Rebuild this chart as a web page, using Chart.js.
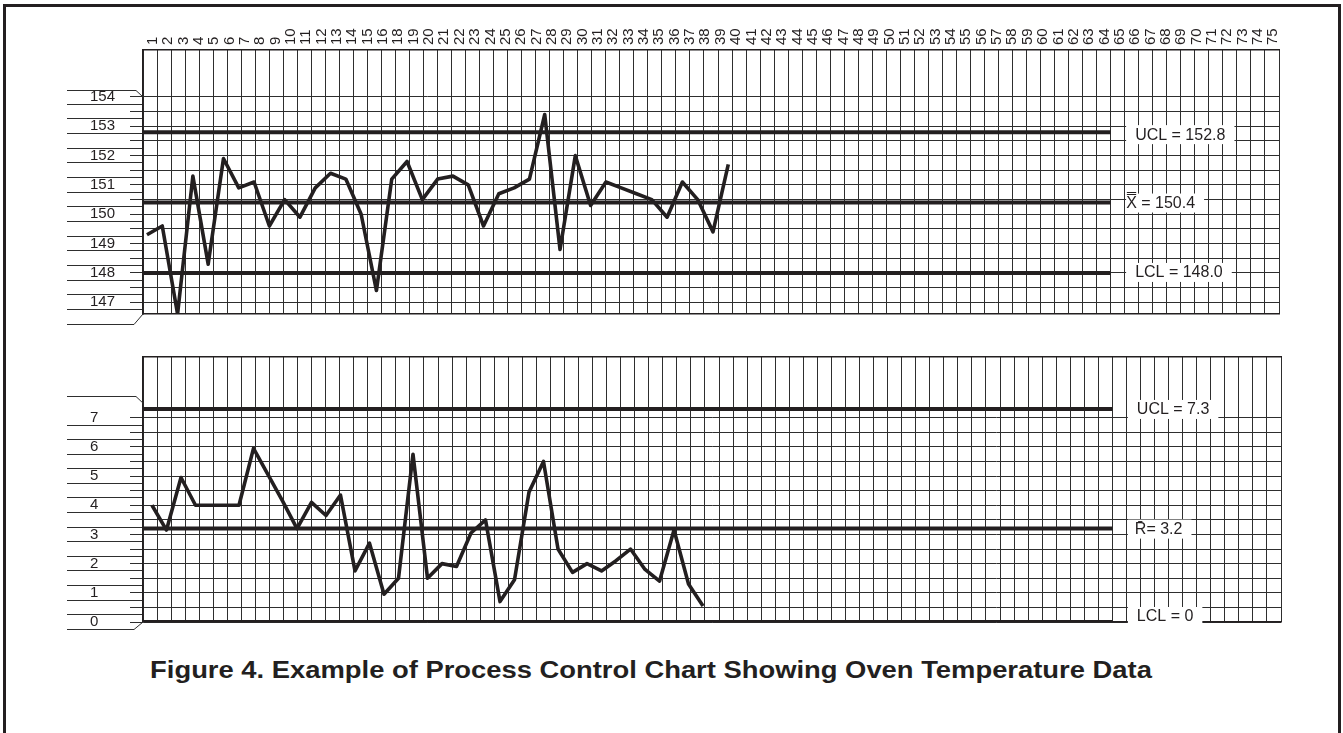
<!DOCTYPE html>
<html>
<head>
<meta charset="utf-8">
<script src="https://cdn.jsdelivr.net/npm/chart.js@4.4.1/dist/chart.umd.min.js"></script>
<style>
  html, body { margin: 0; padding: 0; background: #fff; width: 1343px; height: 733px; overflow: hidden; }
  #frame { position: absolute; left: 3px; top: 4px; width: 1338px; height: 780px; border: 3px solid #231f20; box-sizing: border-box; }
  #w1 { position: absolute; left: 0; top: 0; width: 1343px; height: 335px; }
  #w2 { position: absolute; left: 0; top: 335px; width: 1343px; height: 300px; }
  #caption { position: absolute; left: 0; top: 657px; width: 1302px; text-align: center;
             font: bold 23px "Liberation Sans", Arial, sans-serif; color: #231f20; white-space: nowrap;
             transform: scaleX(1.19); transform-origin: 651px 50%; }
</style>
</head>
<body>
<div id="frame"></div>
<div id="w1"><canvas id="c1" width="1343" height="335"></canvas></div>
<div id="w2"><canvas id="c2" width="1343" height="300"></canvas></div>
<div id="caption">Figure 4. Example of Process Control Chart Showing Oven Temperature Data</div>
<script>
// ---------------- data ----------------
const sampleLabels = ['1','2','3','4','5','6','7','8','9','10','11','12','13','14','15','16',
  '18','19','20','21','22','23','24','25','26','27','28','29','30','31','32','33','34','35',
  '36','37','38','39','40','41','42','43','44','45','46','47','48','49','50','51','52','53',
  '54','55','56','57','58','59','60','61','62','63','64','65','66','67','68','69','70','71',
  '72','73','74','75'];

const xbarValues = [149.3, 149.6, 146.6, 151.3, 148.3, 151.9, 150.9, 151.1, 149.6, 150.5,
  149.9, 150.9, 151.4, 151.2, 150.0, 147.4, 151.2, 151.8, 150.5, 151.2,
  151.3, 151.0, 149.6, 150.7, 150.9, 151.2, 153.4, 148.8, 152.0, 150.3,
  151.1, 150.9, 150.7, 150.5, 149.9, 151.1, 150.5, 149.4, 151.7];

const rangeValues = [4.0, 3.15, 4.95, 4.0, 4.0, 4.0, 4.0, 5.95, 5.05, 4.15,
  3.2, 4.1, 3.65, 4.35, 1.75, 2.7, 0.95, 1.5, 5.75, 1.5,
  2.0, 1.9, 3.05, 3.5, 0.7, 1.45, 4.45, 5.5, 2.5, 1.7,
  2.0, 1.75, 2.1, 2.5, 1.8, 1.4, 3.15, 1.3, 0.55];

const xbarLimitValues = [152.8, 150.4, 148.0];
const xbarLimitLabels = ['UCL = 152.8', 'X\u033F = 150.4', 'LCL = 148.0'];
const rangeLimitValues = [7.3, 3.2, 0];
const rangeLimitLabels = ['UCL = 7.3', 'R\u0304= 3.2', 'LCL = 0'];

const xbarTickLabels = [147, 148, 149, 150, 151, 152, 153, 154];
const rangeTickLabels = [0, 1, 2, 3, 4, 5, 6, 7];

// ---------------- style ----------------
const INK = '#231f20';
const GRID = '#2e2e2e';
const CLEAR = 'rgba(0,0,0,0)';
const FONT = '"Liberation Sans", Arial, sans-serif';
Chart.defaults.font.family = FONT;
Chart.defaults.color = INK;

const isHalfStep = v => Math.abs(v * 2 - Math.round(v * 2)) < 1e-6;
const isWhole = v => Math.abs(v - Math.round(v)) < 1e-6;

// label boxes on the right of the limit lines
const limitLabelPlugin = {
  id: 'limitLabels',
  afterDraw(chart, args, opts) {
    const ctx = chart.ctx;
    const xg = chart.scales.xg, y = chart.scales.y;
    ctx.save();
    ctx.font = '16px ' + FONT;
    ctx.textBaseline = 'middle';
    opts.values.forEach((v, i) => {
      const text = opts.labels[i];
      const cy = y.getPixelForValue(v) + opts.dy[i];
      const x0 = xg.getPixelForValue(opts.boxStart);
      const tx = x0 + opts.textInset[i];
      const w = ctx.measureText(text).width;
      ctx.fillStyle = '#fff';
      ctx.fillRect(x0, cy - 9, tx - x0 + w + 9, 19);
      ctx.fillStyle = INK;
      ctx.textAlign = 'left';
      ctx.fillText(text, tx, cy + 1);
    });
    ctx.restore();
  }
};

// notched ends of the value ruler
const rulerNotchPlugin = {
  id: 'rulerNotch',
  afterDraw(chart, args, opts) {
    const ctx = chart.ctx, y = chart.scales.y, yl = chart.scales.yl, a = chart.chartArea;
    const x0 = yl.right - opts.length;
    const yTop = y.getPixelForValue(opts.top), yTopGrid = y.getPixelForValue(opts.topGrid);
    const yBot = y.getPixelForValue(opts.bottom);
    ctx.save();
    ctx.strokeStyle = GRID; ctx.lineWidth = 1;
    ctx.beginPath();
    ctx.moveTo(x0, Math.round(yTop) + 0.5);
    ctx.lineTo(a.left - 7, Math.round(yTop) + 0.5);
    ctx.lineTo(a.left, yTopGrid);
    ctx.moveTo(x0, Math.round(yBot) + 0.5);
    ctx.lineTo(a.left - 9, Math.round(yBot) + 0.5);
    ctx.lineTo(a.left, a.bottom);
    ctx.stroke();
    ctx.restore();
  }
};

function makeScales(cfg) {
  const inner = [], ruler = [];
  const lo = cfg.tickLabels[0], hi = cfg.tickLabels[cfg.tickLabels.length - 1];
  for (let k = Math.round((lo - 0.25) * 4); k <= Math.round(hi * 4); k++) {
    const v = k / 4;
    inner.push(v);
    if (isWhole(v) || !isHalfStep(v)) ruler.push(v);
  }
  return {
    xg: {
      type: 'linear', position: 'bottom', min: 0, max: 81,
      afterBuildTicks: s => { s.ticks = Array.from({ length: 82 }, (_, i) => ({ value: i })); },
      afterFit: s => { s.height = 0; },
      ticks: { display: false },
      grid: { color: GRID, lineWidth: 1, drawTicks: false },
      border: { display: true, color: INK, width: 1.5 }
    },
    xd: { type: 'linear', display: false, min: cfg.dataMin, max: cfg.dataMax },
    y: {
      type: 'linear', position: 'left', weight: 0, min: cfg.yMin, max: cfg.yMax,
      afterBuildTicks: s => { s.ticks = inner.filter(v => v >= cfg.yMin - 1e-9).map(v => ({ value: v })); },
      afterFit: s => { s.width = 13; },
      ticks: { display: false, autoSkip: false },
      grid: {
        color: c => (c.tick && isHalfStep(c.tick.value)) ? GRID : CLEAR,
        tickColor: GRID, tickLength: 13, lineWidth: 1
      },
      border: { display: true, color: INK, width: 1.5 }
    },
    yl: {
      type: 'linear', position: 'left', weight: 1, min: cfg.yMin, max: cfg.yMax,
      afterBuildTicks: s => { s.ticks = ruler.filter(v => v >= cfg.yMin - 1e-9).map(v => ({ value: v })); },
      afterFit: s => { s.width = 40; },
      ticks: {
        autoSkip: false, crossAlign: 'far', padding: 0, color: INK, font: { size: 15 },
        callback: v => (isWhole(v) && cfg.tickLabels.includes(Math.round(v))) ? String(Math.round(v)) : ''
      },
      grid: {
        drawOnChartArea: false, tickLength: 63, lineWidth: 1,
        tickColor: c => (c.tick && !isWhole(c.tick.value)) ? GRID : CLEAR
      },
      border: { display: false }
    }
  };
}

function limitDatasets(values) {
  return values.map(v => ({
    data: [{ x: 0, y: v }, { x: 69, y: v }],
    xAxisID: 'xg', yAxisID: 'y',
    borderColor: INK, borderWidth: 4, pointRadius: 0, tension: 0, borderCapStyle: 'butt'
  }));
}

// ---------------- top chart: averages ----------------
const scales1 = makeScales({ tickLabels: xbarTickLabels, yMin: 146.6, yMax: 155.6, dataMin: 0.74, dataMax: 75.0 });
scales1.xc = {
  type: 'category', position: 'top', labels: sampleLabels, offset: true,
  afterFit: s => { s.height = 45; },
  ticks: { autoSkip: false, maxRotation: 90, minRotation: 90, padding: 5, labelOffset: 20, color: INK, font: { size: 15 } },
  grid: { display: false, drawTicks: false },
  border: { display: true, color: INK, width: 1.5 }
};

new Chart(document.getElementById('c1'), {
  type: 'line',
  data: {
    datasets: [
      ...limitDatasets(xbarLimitValues),
      {
        data: xbarValues.map((v, i) => ({ x: i + 1, y: v })),
        xAxisID: 'xd', yAxisID: 'y',
        borderColor: INK, borderWidth: 3.6, pointRadius: 0, tension: 0, borderJoinStyle: 'round'
      }
    ]
  },
  options: {
    responsive: false, animation: false, devicePixelRatio: 1,
    layout: { padding: { left: 90, right: 64, top: 5, bottom: 21 } },
    plugins: {
      legend: { display: false }, tooltip: { enabled: false },
      limitLabels: { values: xbarLimitValues, labels: xbarLimitLabels, boxStart: 70.1, textInset: [9, 0, 9], dy: [2, 0, -1] },
      rulerNotch: { length: 63, top: 154.25, topGrid: 154, bottom: 146.25 }
    },
    scales: scales1
  },
  plugins: [limitLabelPlugin, rulerNotchPlugin]
});

// ---------------- bottom chart: ranges ----------------
const scales2 = makeScales({ tickLabels: rangeTickLabels, yMin: 0, yMax: 9.08, dataMin: 0.38, dataMax: 78.86 });
scales2.xt = {
  type: 'linear', position: 'top', min: 0, max: 81,
  afterFit: s => { s.height = 0; },
  ticks: { display: false },
  grid: { drawOnChartArea: false, drawTicks: false },
  border: { display: true, color: INK, width: 1.5 }
};

new Chart(document.getElementById('c2'), {
  type: 'line',
  data: {
    datasets: [
      ...limitDatasets(rangeLimitValues),
      {
        data: rangeValues.map((v, i) => ({ x: i + 1, y: v })),
        xAxisID: 'xd', yAxisID: 'y',
        borderColor: INK, borderWidth: 3.6, pointRadius: 0, tension: 0, borderJoinStyle: 'round'
      }
    ]
  },
  options: {
    responsive: false, animation: false, devicePixelRatio: 1,
    layout: { padding: { left: 90, right: 62, top: 22, bottom: 13 } },
    plugins: {
      legend: { display: false }, tooltip: { enabled: false },
      limitLabels: { values: rangeLimitValues, labels: rangeLimitLabels, boxStart: 70.1, textInset: [9, 7, 9], dy: [0, 0, -6] },
      rulerNotch: { length: 63, top: 7.75, topGrid: 7.5, bottom: -0.25 }
    },
    scales: scales2
  },
  plugins: [limitLabelPlugin, rulerNotchPlugin]
});
</script>
</body>
</html>
